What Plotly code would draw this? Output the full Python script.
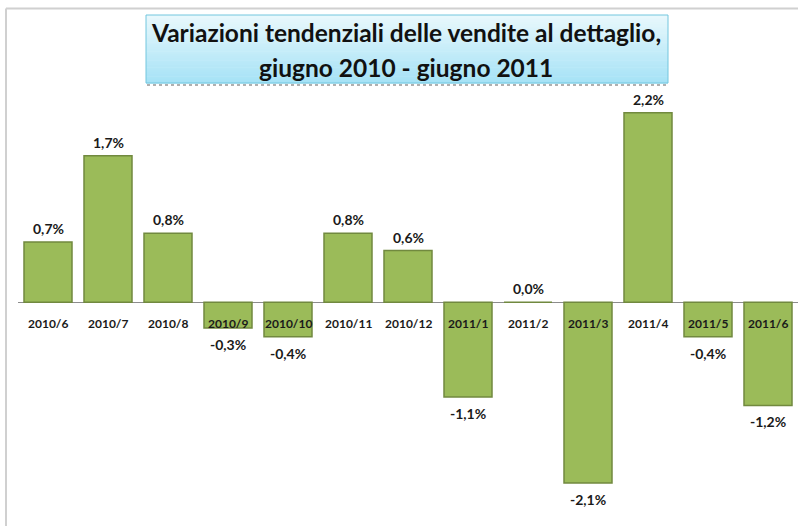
import plotly.graph_objects as go

categories = ["2010/6", "2010/7", "2010/8", "2010/9", "2010/10", "2010/11", "2010/12",
              "2011/1", "2011/2", "2011/3", "2011/4", "2011/5", "2011/6"]
values = [0.7, 1.7, 0.8, -0.3, -0.4, 0.8, 0.6, -1.1, 0.0, -2.1, 2.2, -0.4, -1.2]
title_lines = ["Variazioni tendenziali delle vendite al dettaglio,", "giugno 2010 - giugno 2011"]

W, H = 798, 526
ML, MR, MT, MB = 18, 0, 87, 0
PW, PH = W - ML - MR, H - MT - MB

def px_x(p):
    return (p - ML) / PW

def px_y(p):
    return (H - MB - p) / PH

FONT = "Lato"

fig = go.Figure()
fig.add_trace(go.Bar(
    x=categories, y=values,
    marker=dict(color="#9BBB59", line=dict(color="#71893F", width=1.5)),
    width=0.8, hoverinfo="skip",
))

def fmt(v):
    return ("%.1f" % v).replace(".", ",") + "%"

annotations = []
for c, v in zip(categories, values):
    if v >= 0:
        annotations.append(dict(x=c, y=v, xref="x", yref="y", text="<b>%s</b>" % fmt(v),
                                showarrow=False, yanchor="bottom", yshift=3,
                                font=dict(family=FONT, size=14, color="#1a1a1a")))
    else:
        annotations.append(dict(x=c, y=v, xref="x", yref="y", text="<b>%s</b>" % fmt(v),
                                showarrow=False, yanchor="top", yshift=-6,
                                font=dict(family=FONT, size=14, color="#1a1a1a")))
    annotations.append(dict(x=c, y=0, xref="x", yref="y", text="<b>%s</b>" % c,
                            showarrow=False, yanchor="middle", yshift=-21,
                            font=dict(family=FONT, size=12, color="#1a1a1a")))

# title box
bx0, bx1, by0, by1 = 146, 668, 15, 83
shapes = []
shapes.append(dict(type="line", xref="paper", yref="paper",
                   x0=px_x(bx0 + 1), x1=px_x(bx1 + 1), y0=px_y(by1 + 2), y1=px_y(by1 + 2),
                   line=dict(color="#b0b0b0", width=2, dash="dot")))
n = 30
top = (232, 248, 252)
bot = (166, 226, 246)
for i in range(n):
    t = i / (n - 1)
    col = "rgb(%d,%d,%d)" % tuple(round(top[k] + (bot[k] - top[k]) * t) for k in range(3))
    ya = by0 + (by1 - by0) * i / n
    yb = by0 + (by1 - by0) * (i + 1) / n
    shapes.append(dict(type="rect", xref="paper", yref="paper",
                       x0=px_x(bx0), x1=px_x(bx1), y0=px_y(ya), y1=px_y(yb + 0.5),
                       fillcolor=col, line=dict(width=0), layer="above"))
shapes.append(dict(type="rect", xref="paper", yref="paper",
                   x0=px_x(bx0), x1=px_x(bx1), y0=px_y(by0), y1=px_y(by1),
                   fillcolor="rgba(0,0,0,0)", line=dict(color="#72C6DE", width=1), layer="above"))
shapes.append(dict(type="line", xref="paper", yref="paper",
                   x0=px_x(6), x1=px_x(W + 2), y0=px_y(8.5), y1=px_y(8.5),
                   line=dict(color="#d0d0d0", width=2)))
shapes.append(dict(type="line", xref="paper", yref="paper",
                   x0=px_x(6), x1=px_x(6), y0=px_y(8.5), y1=px_y(H + 2),
                   line=dict(color="#d0d0d0", width=2)))

cx = 406
annotations.append(dict(x=px_x(cx), y=px_y(33), xref="paper", yref="paper",
                        xanchor="center", yanchor="middle",
                        text="<b>%s</b>" % title_lines[0], showarrow=False,
                        font=dict(family=FONT, size=24.5, color="#111111")))
annotations.append(dict(x=px_x(cx), y=px_y(67), xref="paper", yref="paper",
                        xanchor="center", yanchor="middle",
                        text="<b>%s</b>" % title_lines[1], showarrow=False,
                        font=dict(family=FONT, size=24.5, color="#111111")))

fig.update_layout(
    width=W, height=H,
    margin=dict(l=ML, r=MR, t=MT, b=MB),
    paper_bgcolor="white", plot_bgcolor="white",
    showlegend=False,
    xaxis=dict(showticklabels=False, showgrid=False, zeroline=False, showline=False,
               range=[-0.5, len(categories) - 0.5], fixedrange=True),
    yaxis=dict(showticklabels=False, showgrid=False, zeroline=True, zerolinecolor="#8c8c8c",
               zerolinewidth=1, showline=False, range=[-2.6, 2.5], fixedrange=True),
    shapes=shapes, annotations=annotations,
)
for tr in fig.data:
    tr.cliponaxis = False

fig.write_html("out.html", config={"displayModeBar": False},
               post_script="document.body.style.margin='0';document.body.style.overflow='hidden';")
